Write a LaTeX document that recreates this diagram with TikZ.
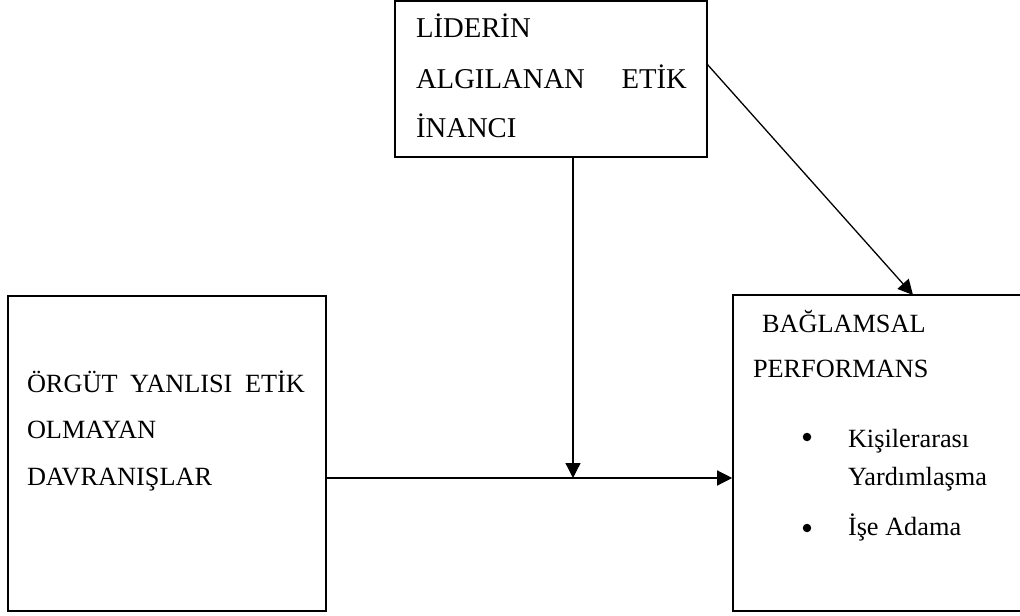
\documentclass[tikz,border=0pt]{standalone}
\usepackage{fontspec}
\setmainfont{Liberation Serif}
\usetikzlibrary{arrows.meta}
\tikzset{
  box/.style={draw=black, line width=1.6bp, rectangle, inner sep=0pt},
  txt/.style={anchor=base west, inner sep=0pt, outer sep=0pt, font=\fontsize{26.3bp}{30bp}\selectfont},
  toptxt/.style={anchor=base west, inner sep=0pt, outer sep=0pt, font=\fontsize{28.7bp}{32bp}\selectfont},
  arr/.style={draw=black, line width=1.3bp, -{Triangle[length=15bp,width=15bp]}},
  dot/.style={circle, fill=black, inner sep=0pt, minimum size=8.5bp}
}
\begin{document}
\begin{tikzpicture}[x=1bp,y=-1bp]
\useasboundingbox (0,0) rectangle (1020,616);
\fill[white] (0,0) rectangle (1020,616);
% boxes
\node[box, minimum width=312bp, minimum height=156bp] (lider) at (551,79) {};
\node[box, minimum width=318bp, minimum height=315bp] (orgut) at (167,453.5) {};
\node[box, minimum width=290bp, minimum height=316bp] (perf) at (878,453) {};
% top box text
\node[toptxt] (t1) at (416,38) {LİDERİN};
\node[toptxt] (t2) at (416,89) {\makebox[271bp][s]{ALGILANAN ETİK}};
\node[toptxt] (t3) at (416,138) {İNANCI};
% left box text
\node[txt] (l1) at (27,392) {\makebox[278bp][s]{ÖRGÜT YANLISI ETİK}};
\node[txt] (l2) at (27,438) {OLMAYAN};
\node[txt] (l3) at (27,485) {DAVRANIŞLAR};
% right box text
\node[txt] (r1) at (762,332) {BAĞLAMSAL};
\node[txt] (r2) at (753,377) {PERFORMANS};
\node[dot] (b1) at (807,437) {};
\node[txt] (r3) at (848,447) {Kişilerarası};
\node[txt] (r4) at (848,485) {Yardımlaşma};
\node[dot] (b2) at (807,528) {};
\node[txt] (r5) at (848,535) {İşe Adama};
% connectors
\coordinate (m) at (573,478);
\coordinate (ds) at (707,64);
\coordinate (de) at (913,295);
\draw[arr] (lider.south -| m) -- (m);
\draw[arr] (orgut.east |- m) -- (perf.west |- m);
\draw[arr] (ds) -- (de);
\end{tikzpicture}
\end{document}
